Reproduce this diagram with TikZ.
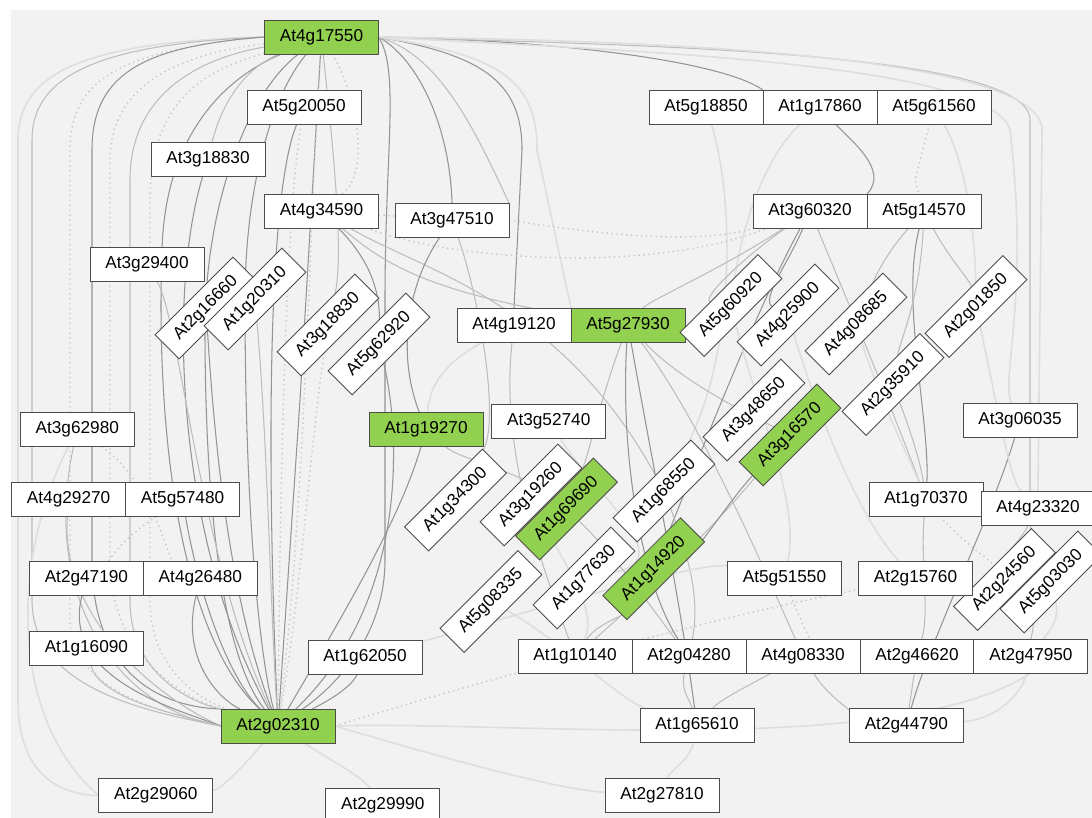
\documentclass[tikz,border=0pt]{standalone}
\usepackage{fontspec}
\setmainfont{Liberation Sans}
\usetikzlibrary{positioning}
\definecolor{hubgreen}{HTML}{92D050}
\definecolor{canvas}{HTML}{F2F2F2}
\pgfdeclarelayer{bg}
\pgfsetlayers{bg,main}
\tikzset{
  gene/.style={draw=black!70, fill=white, line width=0.5pt, minimum width=2.28cm,
    minimum height=0.68cm, inner sep=0pt, outer sep=0pt, font=\fontsize{9.8}{11}\selectfont},
  hub/.style={fill=hubgreen},
  tilt/.style={rotate=45, minimum width=2.2cm},
  link/.style={draw=black!42, line width=0.6pt},
  soft/.style={draw=black!26, line width=0.6pt},
  faint/.style={draw=black!13, line width=0.9pt},
  dots/.style={draw=black!22, line width=0.8pt, dotted},
}

\begin{document}
\begin{tikzpicture}[x=0.02cm, y=-0.02cm]
 \useasboundingbox (0,0) rectangle (1092,818);
 % genes
 \node[gene,hub] (At4g17550) at (321.5,37) {At4g17550};
 \node[gene] (At5g20050) at (304,107) {At5g20050};
 \node[gene] (At3g18830) at (208,159) {At3g18830};
 \node[gene] (At4g34590) at (321.5,211) {At4g34590};
 \node[gene] (At3g47510) at (452,220) {At3g47510};
 \node[gene] (At3g29400) at (147,264) {At3g29400};
 \node[gene,tilt] (At2g16660) at (206,308) {At2g16660};
 \node[gene,tilt] (At1g20310) at (255,299) {At1g20310};
 \node[gene,tilt] (At3g18830r) at (328,325) {At3g18830};
 \node[gene,tilt] (At5g62920) at (379,344) {At5g62920};
 \node[gene] (At4g19120) at (514,325) {At4g19120};
 \node[gene,hub,right=0pt of At4g19120] (At5g27930) {At5g27930};
 \node[gene] (At5g18850) at (706,107) {At5g18850};
 \node[gene,right=0pt of At5g18850] (At1g17860) {At1g17860};
 \node[gene,right=0pt of At1g17860] (At5g61560) {At5g61560};
 \node[gene] (At3g60320) at (810,211) {At3g60320};
 \node[gene,right=0pt of At3g60320] (At5g14570) {At5g14570};
 \node[gene,tilt] (At5g60920) at (731,305.5) {At5g60920};
 \node[gene,tilt] (At4g25900) at (788,315) {At4g25900};
 \node[gene,tilt] (At4g08685) at (856,324) {At4g08685};
 \node[gene,tilt] (At2g01850) at (976,306.5) {At2g01850};
 \node[gene,tilt] (At2g35910) at (893,384.5) {At2g35910};
 \node[gene,tilt] (At3g48650) at (754,410) {At3g48650};
 \node[gene,tilt,hub] (At3g16570) at (790,435) {At3g16570};
 \node[gene] (At3g62980) at (77.3,429.5) {At3g62980};
 \node[gene,hub] (At1g19270) at (426,429.3) {At1g19270};
 \node[gene] (At3g52740) at (548.7,421) {At3g52740};
 \node[gene] (At3g06035) at (1020,420) {At3g06035};
 \node[gene,tilt] (At1g34300) at (455.5,500) {At1g34300};
 \node[gene,tilt] (At3g19260) at (531,495) {At3g19260};
 \node[gene,tilt,hub] (At1g69690) at (566.5,509) {At1g69690};
 \node[gene,tilt] (At1g68550) at (664,491) {At1g68550};
 \node[gene] (At4g29270) at (68.6,499.5) {At4g29270};
 \node[gene,right=0pt of At4g29270] (At5g57480) {At5g57480};
 \node[gene] (At1g70370) at (926,499) {At1g70370};
 \node[gene] (At4g23320) at (1038,508.5) {At4g23320};
 \node[gene,tilt] (At1g77630) at (584,578) {At1g77630};
 \node[gene,tilt,hub] (At1g14920) at (653.7,568.7) {At1g14920};
 \node[gene,tilt] (At5g08335) at (491,601.5) {At5g08335};
 \node[gene,tilt] (At2g24560) at (1004.5,579.5) {At2g24560};
 \node[gene,tilt] (At5g03030) at (1051,582) {At5g03030};
 \node[gene] (At2g47190) at (86.4,578.5) {At2g47190};
 \node[gene,right=0pt of At2g47190] (At4g26480) {At4g26480};
 \node[gene] (At5g51550) at (784.5,578.5) {At5g51550};
 \node[gene] (At2g15760) at (915.5,578.5) {At2g15760};
 \node[gene] (At1g16090) at (86.4,648) {At1g16090};
 \node[gene] (At1g62050) at (365,657.3) {At1g62050};
 \node[gene] (At1g10140) at (575,656) {At1g10140};
 \node[gene,right=0pt of At1g10140] (At2g04280) {At2g04280};
 \node[gene,right=0pt of At2g04280] (At4g08330) {At4g08330};
 \node[gene,right=0pt of At4g08330] (At2g46620) {At2g46620};
 \node[gene,right=0pt of At2g46620] (At2g47950) {At2g47950};
 \node[gene,hub] (At2g02310) at (278,726) {At2g02310};
 \node[gene] (At1g65610) at (697,725.5) {At1g65610};
 \node[gene] (At2g44790) at (906.4,725.5) {At2g44790};
 \node[gene] (At2g29060) at (155.8,795.5) {At2g29060};
 \node[gene] (At2g29990) at (382.7,805) {At2g29990};
 \node[gene] (At2g27810) at (662,795) {At2g27810};

 \begin{pgfonlayer}{bg}
  \fill[canvas] (11,10) rectangle (1092,818);
  % left bundle
  \draw[faint] (At4g17550.west) .. controls (90,42) and (18,70) .. (18,140) -- (18,700) .. controls (18,775) and (60,795) .. (At2g29060.west);
  \draw[soft] (At4g17550.west) .. controls (100,44) and (32,75) .. (32,140) -- (32,600) .. controls (32,690) and (150,712) .. (At2g02310.west);
  \draw[dots] (At4g17550.west) .. controls (120,50) and (70,80) .. (70,150) -- (70,620) .. controls (70,690) and (160,712) .. (At2g02310.west);
  \draw[link] (At4g17550.west) .. controls (150,46) and (92,70) .. (92,150) -- (92,560) .. controls (92,690) and (180,708) .. (At2g02310.north west);
  \draw[dots] (At4g17550) .. controls (170,55) and (110,90) .. (110,160) -- (110,560) .. controls (110,660) and (190,700) .. (At2g02310.north west);
  \draw[soft] (At4g17550) .. controls (190,60) and (130,100) .. (130,180) -- (130,600) .. controls (130,680) and (200,705) .. (At2g02310.north west);
  \draw[dots] (At4g17550) .. controls (205,70) and (150,100) .. (150,200) -- (150,600) .. controls (150,680) and (215,705) .. (At2g02310);
  \draw[link] (At4g17550) .. controls (220,80) and (165,140) .. (162,250) .. controls (155,450) and (185,640) .. (At2g02310);
  \draw[soft] (At4g17550) .. controls (240,70) and (220,110) .. (At3g18830);
  \draw[link] (At4g17550) .. controls (250,90) and (205,200) .. (205,330) .. controls (205,520) and (225,660) .. (At2g02310);
  \draw[link] (At4g17550) .. controls (275,90) and (245,180) .. (245,300) .. controls (245,500) and (258,650) .. (At2g02310);
  \draw[link] (At4g17550) -- (300,400) -- (At2g02310);
  \draw[dots] (At4g17550) .. controls (310,200) and (306,500) .. (At2g02310);
  \draw[soft] (At4g17550) .. controls (330,120) and (345,250) .. (At3g18830r);
  \draw[dots] (At4g17550) .. controls (355,90) and (372,170) .. (At4g34590);
  \draw[link] (At4g17550.east) .. controls (400,70) and (385,150) .. (385,300) -- (385,560) .. controls (385,640) and (330,690) .. (At2g02310);
  \draw[link] (At4g17550.east) .. controls (420,60) and (450,130) .. (At3g47510.north);
  \draw[soft] (At4g17550.east) .. controls (440,55) and (475,130) .. (At3g47510.north east);
  \draw[link] (At4g17550.east) .. controls (480,55) and (522,80) .. (522,150) -- (At4g19120.north);
  \draw[faint] (At4g17550.east) .. controls (500,55) and (537,80) .. (537,150) -- (At4g19120.north east);
  % right bundle
  \draw[link] (At4g17550.east) .. controls (550,40) and (720,60) .. (At1g17860.north west);
  \draw[soft] (At4g17550.east) .. controls (620,45) and (1030,50) .. (1030,120) -- (1030,500) .. controls (1030,560) and (1040,600) .. (At2g47950.north);
  \draw[faint] (At4g17550.east) .. controls (650,40) and (1042,55) .. (1042,130) -- (At4g23320.north);
  \draw[faint] (At4g17550.east) .. controls (600,50) and (990,60) .. (1010,130) .. controls (1030,300) and (1000,380) .. (At3g06035);
  \draw[link] (At1g17860) .. controls (850,140) and (890,170) .. (At5g14570.north west);
  \draw[faint] (At5g18850) .. controls (735,200) and (735,350) .. (At1g68550);
  \draw[dots] (At5g61560) -- (915,180) -- (At5g14570);
  \draw[faint] (At5g61560) .. controls (965,160) and (975,230) .. (At2g01850);
  \draw[faint] (At1g17860) .. controls (760,160) and (740,240) .. (At5g60920);
  % top middle
  \draw[dots] (At4g34590) -- (At3g47510);
  \draw[dots] (At3g47510.east) .. controls (600,235) and (700,245) .. (At3g60320);
  \draw[dots] (At4g34590) .. controls (450,260) and (650,275) .. (At3g60320);
  \draw[soft] (At4g34590) .. controls (380,260) and (420,290) .. (At5g27930);
  \draw[link] (At4g34590) .. controls (360,250) and (380,280) .. (At5g62920);
  \draw[soft] (At4g34590) .. controls (420,270) and (560,300) .. (At1g68550);
  \draw[link] (At3g47510) .. controls (410,280) and (395,350) .. (At1g19270);
  \draw[soft] (At3g47510) .. controls (480,300) and (500,420) .. (At1g34300);
  \draw[link] (At5g20050) .. controls (265,200) and (268,500) .. (At2g02310);
  \draw[dots] (At5g20050) .. controls (285,220) and (280,500) .. (At2g02310);
  \draw[link] (At3g18830) .. controls (165,300) and (180,550) .. (At2g02310);
  \draw[soft] (At3g29400) .. controls (180,320) and (200,560) .. (At2g02310);
  \draw[link] (At2g16660) .. controls (215,450) and (230,600) .. (At2g02310);
  \draw[soft] (At1g20310) .. controls (268,450) and (270,600) .. (At2g02310);
  \draw[dots] (At3g18830r) .. controls (310,450) and (300,600) .. (At2g02310);
  \draw[link] (At5g62920) .. controls (400,430) and (410,600) .. (At2g02310);
  \draw[link] (At1g19270) .. controls (400,520) and (340,620) .. (At2g02310);
  \draw[soft] (At1g19270) .. controls (460,460) and (520,470) .. (At1g69690);
  % left column
  \draw[soft] (At3g62980) .. controls (40,600) and (120,710) .. (At2g02310.west);
  \draw[dots] (At3g62980) .. controls (150,480) and (170,560) .. (At4g26480);
  \draw[soft] (At4g29270) .. controls (60,620) and (160,700) .. (At2g02310.west);
  \draw[link] (At5g57480) .. controls (200,600) and (230,680) .. (At2g02310);
  \draw[dots] (At5g57480) .. controls (120,540) and (110,560) .. (At2g47190);
  \draw[link] (At2g47190) .. controls (60,680) and (180,710) .. (At2g02310.west);
  \draw[link] (At4g26480) .. controls (180,660) and (220,700) .. (At2g02310);
  \draw[soft] (At1g16090) .. controls (100,700) and (180,715) .. (At2g02310.west);
  \draw[link] (At1g62050) .. controls (350,690) and (320,705) .. (At2g02310);
  \draw[faint] (At2g02310) .. controls (240,770) and (220,790) .. (At2g29060);
  \draw[faint] (At2g02310) .. controls (330,760) and (360,775) .. (At2g29990);
  \draw[faint] (At3g62980) .. controls (10,560) and (10,720) .. (At2g29060.west);
  % middle
  \draw[link] (At5g27930) .. controls (650,450) and (680,600) .. (At1g65610);
  \draw[link] (At5g27930) .. controls (620,450) and (640,580) .. (At2g04280);
  \draw[soft] (At5g27930) .. controls (700,420) and (760,560) .. (At4g08330);
  \draw[soft] (At5g27930) .. controls (600,400) and (590,450) .. (At1g69690);
  \draw[soft] (At5g27930) .. controls (680,380) and (740,410) .. (At3g16570);
  \draw[soft] (At4g19120) .. controls (500,450) and (540,560) .. (At1g10140);
  \draw[faint] (At4g19120) .. controls (450,360) and (430,380) .. (At1g19270);
  \draw[soft] (At3g60320) .. controls (720,270) and (650,300) .. (At5g27930);
  \draw[link] (At3g60320) .. controls (790,260) and (760,300) .. (At4g25900);
  \draw[link] (At3g60320) .. controls (760,300) and (690,480) .. (At1g14920);
  \draw[soft] (At3g60320) .. controls (740,260) and (700,300) .. (At5g60920);
  \draw[soft] (At3g16570) .. controls (720,520) and (640,600) .. (At1g10140);
  \draw[link] (At3g16570) .. controls (730,500) and (690,560) .. (At1g14920);
  \draw[soft] (At1g14920) .. controls (640,610) and (600,620) .. (At1g10140);
  \draw[soft] (At1g68550) .. controls (690,560) and (700,600) .. (At2g04280);
  \draw[faint] (At3g52740) .. controls (600,500) and (680,560) .. (At1g77630);
  \draw[faint] (At3g19260) .. controls (560,560) and (600,610) .. (At1g10140);
  \draw[soft] (At1g69690) .. controls (620,560) and (660,620) .. (At2g04280);
  \draw[faint] (At5g08335) .. controls (560,640) and (620,700) .. (At1g65610);
  \draw[soft] (At2g04280) .. controls (680,690) and (690,700) .. (At1g65610);
  \draw[soft] (At4g08330) .. controls (740,690) and (720,700) .. (At1g65610);
  \draw[faint] (At1g65610) .. controls (690,760) and (670,770) .. (At2g27810);
  \draw[faint] (At2g02310.east) .. controls (450,760) and (560,790) .. (At2g27810);
  \draw[dots] (At2g02310.east) .. controls (450,690) and (700,620) .. (At2g15760);
  \draw[faint] (At2g02310.east) .. controls (500,720) and (900,760) .. (At2g47950.south);
  \draw[faint] (At1g62050) .. controls (500,620) and (700,560) .. (At5g51550);
  \draw[dots] (At5g51550) .. controls (800,620) and (810,640) .. (At4g08330);
  % right
  \draw[link] (At5g14570) .. controls (900,300) and (930,420) .. (At1g70370);
  \draw[soft] (At5g14570) .. controls (880,260) and (870,290) .. (At4g08685);
  \draw[soft] (At5g14570) .. controls (950,260) and (970,280) .. (At2g01850);
  \draw[soft] (At5g14570) .. controls (920,300) and (900,340) .. (At2g35910);
  \draw[soft] (At3g60320) .. controls (860,330) and (900,430) .. (At1g70370);
  \draw[faint] (At4g08685) .. controls (880,400) and (910,460) .. (At1g70370);
  \draw[soft] (At2g35910) .. controls (910,430) and (920,460) .. (At1g70370);
  \draw[soft] (At1g70370) .. controls (920,560) and (930,610) .. (At2g46620);
  \draw[link] (At3g06035) .. controls (990,520) and (930,640) .. (At2g44790);
  \draw[soft] (At2g46620) -- (At2g44790);
  \draw[soft] (At4g08330) .. controls (830,700) and (860,715) .. (At2g44790);
  \draw[faint] (At2g47950) .. controls (1020,700) and (990,720) .. (At2g44790);
  \draw[faint] (At2g01850) .. controls (1000,420) and (1010,480) .. (At4g23320);
  \draw[soft] (At4g23320) .. controls (1020,540) and (1010,550) .. (At2g24560);
  \draw[faint] (At5g03030) .. controls (1060,620) and (1050,630) .. (At2g47950);
  \draw[dots] (At1g70370) .. controls (960,540) and (990,560) .. (At2g24560);
  \draw[faint] (At5g60920) .. controls (760,420) and (800,500) .. (At5g51550);
  \draw[faint] (At4g25900) .. controls (820,420) and (860,520) .. (At2g15760);
 \end{pgfonlayer}
\end{tikzpicture}
\end{document}
